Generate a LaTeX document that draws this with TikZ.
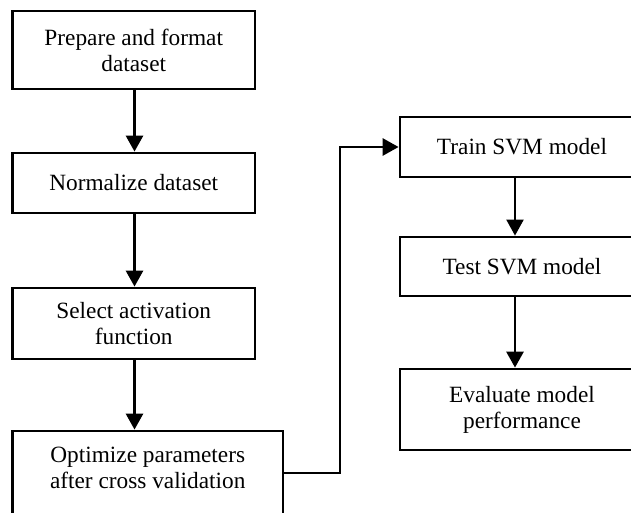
\documentclass[tikz,border=0pt]{standalone}
\usepackage{fontspec}
\setmainfont{Liberation Serif}
\usetikzlibrary{arrows.meta}
\tikzset{
  box/.style={draw=black, line width=2.8pt, align=center, inner sep=0pt,
    font=\fontsize{23.3}{26}\selectfont, text=black},
  arr/.style={line width=2.8pt, -{Triangle[width=17pt,length=16pt]}},
  thinarr/.style={line width=2.2pt, -{Triangle[width=17pt,length=16pt]}}
}
\begin{document}
\begin{tikzpicture}[x=1pt,y=-1pt]
\useasboundingbox (0,0) rectangle (631,513);
\clip (0,0) rectangle (631,513);
\node[box, minimum width=242.5pt, minimum height=78pt] (prep) at (133.75,50) {Prepare and format\\dataset};
\node[box, minimum width=242.5pt, minimum height=60pt] (norm) at (133.75,183) {Normalize dataset};
\node[box, minimum width=242.5pt, minimum height=71pt] (sel) at (133.75,323.5) {Select activation\\function};
\node[box, minimum width=270.5pt, minimum height=92pt] (opt) at (147.75,477) {Optimize parameters\\after cross validation\rule[-18pt]{0pt}{1pt}};
\node[box, minimum width=244pt, minimum height=60pt] (train) at (522,147) {Train SVM model};
\node[box, minimum width=244pt, minimum height=59pt] (test) at (522,266.5) {Test SVM model};
\node[box, minimum width=244pt, minimum height=81pt] (eval) at (522,409.5) {Evaluate model\\performance};
\coordinate (lx) at (134.5,0);
\coordinate (rx) at (515,0);
\coordinate (elbow) at (340,0);
\coordinate (oy) at (0,473);
\draw[arr] (prep.south -| lx) -- (norm.north -| lx);
\draw[arr] (norm.south -| lx) -- (sel.north -| lx);
\draw[arr] (sel.south -| lx) -- (opt.north -| lx);
\draw[thinarr] (train.south -| rx) -- (test.north -| rx);
\draw[arr] (test.south -| rx) -- (eval.north -| rx);
\draw[arr] (opt.east |- oy) -- (elbow |- oy) |- (train.west);
\end{tikzpicture}
\end{document}
